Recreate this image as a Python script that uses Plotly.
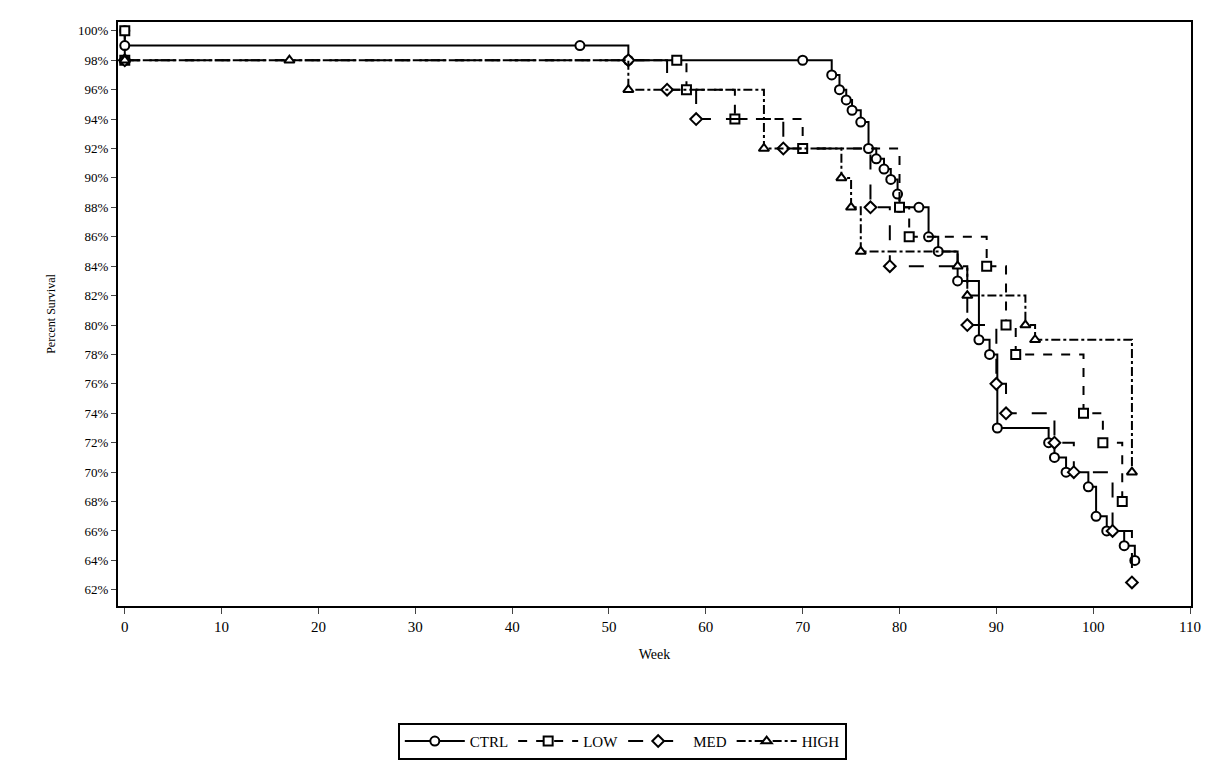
import plotly.graph_objects as go

ctrl_w = [0, 0, 47, 52, 70, 73, 73.8, 74.5, 75.1, 76, 76.8, 77.6, 78.4, 79.1, 79.8, 80, 82, 83, 84, 86, 88.2, 89.3, 90.1, 95.4, 96, 97.2, 99.5, 100.3, 101.4, 103.2, 104.3]
ctrl_s = [100, 99, 99, 98, 98, 97, 96, 95.3, 94.6, 93.8, 92, 91.3, 90.6, 89.9, 88.9, 88, 88, 86, 85, 83, 79, 78, 73, 72, 71, 70, 69, 67, 66, 65, 64]
low_w = [0, 0, 57, 58, 63, 70, 80, 81, 89, 91, 92, 99, 101, 103]
low_s = [100, 98, 98, 96, 94, 92, 88, 86, 84, 80, 78, 74, 72, 68]
med_w = [0, 52, 56, 59, 68, 77, 79, 87, 90, 91, 96, 98, 102, 104]
med_s = [98, 98, 96, 94, 92, 88, 84, 80, 76, 74, 72, 70, 66, 62.5]
high_w = [0, 17, 52, 66, 74, 75, 76, 86, 87, 93, 94, 104]
high_s = [98, 98, 96, 92, 90, 88, 85, 84, 82, 80, 79, 70]
y_ticks = list(range(62, 101, 2))
y_labels = [f"{v}%" for v in y_ticks]

font = "Liberation Serif"
fig = go.Figure()
def add(name, w, s, sym, dash):
    fig.add_trace(go.Scatter(x=w, y=s, name=name, mode="lines+markers", line_shape="hv",
                             line=dict(color="black", width=2, dash=dash),
                             marker=dict(symbol=sym, size=9, color="white", line=dict(color="black", width=2))))
add("CTRL", ctrl_w, ctrl_s, "circle", "solid")
add("LOW", low_w, low_s, "square", "dash")
add("MED", med_w, med_s, "diamond", "longdash")
add("HIGH", high_w, high_s, "triangle-up", "dashdot")

fig.update_layout(
    width=1205, height=770, paper_bgcolor="white", plot_bgcolor="white",
    margin=dict(l=110, r=14, t=12, b=172),
    font=dict(family=font, color="black", size=14),
    xaxis=dict(range=[-0.7, 110.1], tickvals=list(range(0, 111, 10)), ticks="outside", ticklen=6,
               showline=True, linecolor="black", linewidth=2, mirror=True, showgrid=False, zeroline=False,
               title=dict(text="Week", font=dict(size=14)), tickfont=dict(size=15)),
    yaxis=dict(range=[60.9, 100.6], tickvals=y_ticks, ticktext=y_labels, ticks="outside", ticklen=5,
               showline=True, linecolor="black", linewidth=2, mirror=True, showgrid=False, zeroline=False,
               title=dict(text="Percent Survival", font=dict(size=12), standoff=20), tickfont=dict(size=13)),
    legend=dict(orientation="h", x=0.47, xanchor="center", y=-0.2, yanchor="top",
                bordercolor="black", borderwidth=2, font=dict(size=15), itemwidth=60),
)
fig.write_html("out.html")
